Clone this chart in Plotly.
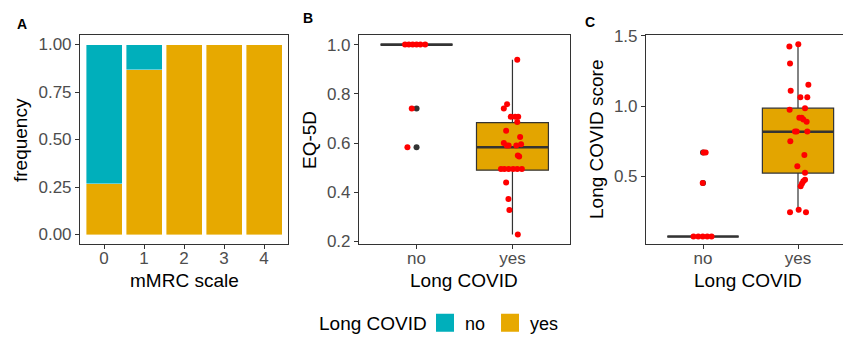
import plotly.graph_objects as go

# ---------------- data ----------------
mmrc_levels = [0, 1, 2, 3, 4]
mmrc_labels = ["0", "1", "2", "3", "4"]
freq_yes = [0.267, 0.867, 1.0, 1.0, 1.0]
freq_no = [0.733, 0.133, 0.0, 0.0, 0.0]

group_labels = ["no", "yes"]
group_pos = [1, 2]

# Panel B: EQ-5D
eq_no_vals = [1.0, 1.0, 1.0, 1.0, 1.0, 1.0, 0.74, 0.583]
eq_no_jit = [-0.12, -0.08, -0.04, 0.0, 0.04, 0.09, -0.05, -0.095]
eq_yes_vals = [0.938, 0.758, 0.74, 0.707, 0.707, 0.707, 0.686, 0.65, 0.625,
               0.60, 0.59, 0.59, 0.59, 0.595, 0.55, 0.545,
               0.495, 0.495, 0.495, 0.495, 0.495, 0.495,
               0.44, 0.373, 0.328, 0.229]
eq_yes_jit = [0.05, -0.056, -0.09, -0.018, 0.028, 0.06, 0.05, -0.066, 0.08,
              -0.09, -0.06, -0.04, 0.04, 0.09, 0.056, 0.07,
              -0.12, -0.084, -0.04, 0.007, 0.05, 0.098,
              -0.066, -0.042, -0.032, 0.056]
eq_stats = dict(q1=[1.0, 0.49], median=[1.0, 0.583], q3=[1.0, 0.683],
                lower=[1.0, 0.229], upper=[1.0, 0.938])
eq_outliers = [0.74, 0.583]

# Panel C: Long COVID score
sc_no_vals = [0.073, 0.073, 0.073, 0.073, 0.073, 0.671, 0.671, 0.453]
sc_no_jit = [-0.10, -0.05, -0.003, 0.045, 0.09, 0.007, 0.028, -0.003]
sc_yes_vals = [1.424, 1.44, 1.303, 1.109, 1.152, 1.064, 1.064, 0.986, 0.974,
               0.917, 0.917, 0.905, 0.89, 0.82, 0.82, 0.82, 0.751, 0.652,
               0.573, 0.526, 0.476, 0.467, 0.45, 0.43, 0.246, 0.263, 0.246]
sc_yes_jit = [-0.091, 0.003, -0.084, -0.077, 0.109, 0.025, 0.098, 0.074, -0.088,
              0.014, 0.039, 0.056, 0.091, -0.032, -0.014, 0.098, -0.081, 0.067,
              -0.007, 0.074, 0.074, 0.056, 0.042, 0.028, -0.084, 0.007, 0.084]
sc_stats = dict(q1=[0.073, 0.524], median=[0.073, 0.818], q3=[0.073, 0.986],
                lower=[0.073, 0.246], upper=[0.073, 1.44])
sc_outliers = [0.671, 0.453]

# ---------------- styles ----------------
TEAL = "#00AFBB"
ORANGE = "#E7A900"
BOXFILL = "#E3A500"
DARK = "#333333"
TICKC = "#4D4D4D"
FONT = "Liberation Sans, Arial, sans-serif"
W, H = 843, 337

fig = go.Figure()

# Panel A bars
fig.add_trace(go.Bar(x=mmrc_levels, y=freq_yes, width=0.9, marker=dict(color=ORANGE, line=dict(color="white", width=0.4)),
                     showlegend=False, xaxis="x", yaxis="y", hoverinfo="skip"))
fig.add_trace(go.Bar(x=mmrc_levels, y=freq_no, width=0.9, marker=dict(color=TEAL, line=dict(color="white", width=0.4)),
                     showlegend=False, xaxis="x", yaxis="y", hoverinfo="skip"))


def add_box_panel(stats, outliers, no_vals, no_jit, yes_vals, yes_jit, xa, ya):
    for i, p in enumerate(group_pos):
        fig.add_trace(go.Box(x=[p], q1=[stats["q1"][i]], median=[stats["median"][i]], q3=[stats["q3"][i]],
                             lowerfence=[stats["lower"][i]], upperfence=[stats["upper"][i]],
                             width=0.75, whiskerwidth=0, fillcolor=BOXFILL if i == 1 else "rgba(0,0,0,0)",
                             line=dict(color=DARK, width=1.2), boxpoints=False, showlegend=False,
                             xaxis=xa, yaxis=ya, hoverinfo="skip"))
    for i, p in enumerate(group_pos):
        fig.add_trace(go.Scatter(x=[p - 0.375, p + 0.375], y=[stats["median"][i]] * 2, mode="lines",
                                 line=dict(color=DARK, width=2.6), showlegend=False,
                                 xaxis=xa, yaxis=ya, hoverinfo="skip"))
    fig.add_trace(go.Scatter(x=[group_pos[0]] * len(outliers), y=outliers, mode="markers",
                             marker=dict(color=DARK, size=6), showlegend=False,
                             xaxis=xa, yaxis=ya, hoverinfo="skip"))
    fig.add_trace(go.Scatter(x=[group_pos[0] + j for j in no_jit], y=no_vals, mode="markers",
                             marker=dict(color="#FF0000", size=6), showlegend=False,
                             xaxis=xa, yaxis=ya, hoverinfo="skip"))
    fig.add_trace(go.Scatter(x=[group_pos[1] + j for j in yes_jit], y=yes_vals, mode="markers",
                             marker=dict(color="#FF0000", size=6), showlegend=False,
                             xaxis=xa, yaxis=ya, hoverinfo="skip"))


add_box_panel(eq_stats, eq_outliers, eq_no_vals, eq_no_jit, eq_yes_vals, eq_yes_jit, "x2", "y2")
add_box_panel(sc_stats, sc_outliers, sc_no_vals, sc_no_jit, sc_yes_vals, sc_yes_jit, "x3", "y3")

# legend entries
for name, col in [("no", TEAL), ("yes", ORANGE)]:
    fig.add_trace(go.Scatter(x=[None], y=[None], mode="markers", name=name,
                             marker=dict(symbol="square", size=16, color=col, line=dict(color=col, width=2)),
                             xaxis="x", yaxis="y"))


def px_x(p):
    return p / W


def px_y(p):
    return (H - p) / H


ytop, ybot = 35, 244
ydom = [px_y(ybot), px_y(ytop)]

axis_common = dict(showgrid=False, zeroline=False, showline=True, linecolor=DARK, linewidth=1.1,
                   ticks="outside", ticklen=4, tickcolor=DARK, tickwidth=1.1,
                   tickfont=dict(family=FONT, size=17, color=TICKC))
xtick_extra = dict(ticklabelstandoff=-5)

fig.update_layout(
    width=W, height=H, margin=dict(l=0, r=0, t=0, b=0, autoexpand=False),
    paper_bgcolor="white", plot_bgcolor="white", barmode="stack", bargap=0.1,
    font=dict(family=FONT, color="black"),
    xaxis=dict(domain=[px_x(80), px_x(288)], range=[-0.6, 4.6], tickvals=mmrc_levels, ticktext=mmrc_labels,
               mirror=True, anchor="y", **axis_common, **xtick_extra),
    yaxis=dict(domain=ydom, range=[-0.05, 1.05], tickvals=[0, 0.25, 0.5, 0.75, 1.0],
               ticktext=["0.00", "0.25", "0.50", "0.75", "1.00"], mirror=True, anchor="x", **axis_common),
    xaxis2=dict(domain=[px_x(359), px_x(570)], range=[0.4, 2.6], tickvals=group_pos, ticktext=group_labels,
                mirror=True, anchor="y2", **axis_common, **xtick_extra),
    yaxis2=dict(domain=ydom, range=[0.19, 1.039], tickvals=[0.2, 0.4, 0.6, 0.8, 1.0],
                ticktext=["0.2", "0.4", "0.6", "0.8", "1.0"], mirror=True, anchor="x2", **axis_common),
    xaxis3=dict(domain=[px_x(646), 1.0], range=[0.4, 0.4 + (843 - 646) / 95.0], tickvals=group_pos,
                ticktext=group_labels, mirror=True, anchor="y3", **axis_common, **xtick_extra),
    yaxis3=dict(domain=ydom, range=[0.02, 1.506], tickvals=[0.5, 1.0, 1.5],
                ticktext=["0.5", "1.0", "1.5"], mirror=False, anchor="x3", **axis_common),
    legend=dict(orientation="h", x=px_x(425), xanchor="left", y=px_y(323), yanchor="middle",
                itemsizing="trace", traceorder="normal", font=dict(family=FONT, size=18, color="black"),
                bgcolor="rgba(0,0,0,0)"),
)

annots = [
    dict(text="<b>A</b>", x=px_x(22), y=px_y(24), size=14, anchor="center"),
    dict(text="<b>B</b>", x=px_x(308), y=px_y(18), size=14, anchor="center"),
    dict(text="<b>C</b>", x=px_x(590), y=px_y(22), size=14, anchor="center"),
    dict(text="mMRC scale", x=px_x(184), y=px_y(280), size=19, anchor="center"),
    dict(text="Long COVID", x=px_x(464), y=px_y(280), size=19, anchor="center"),
    dict(text="Long COVID", x=px_x(748), y=px_y(280), size=19, anchor="center"),
    dict(text="Long COVID", x=px_x(429), y=px_y(323), size=19, anchor="right"),
]
for a in annots:
    fig.add_annotation(text=a["text"], x=a["x"], y=a["y"], xref="paper", yref="paper",
                       xanchor=a["anchor"], yanchor="middle", showarrow=False,
                       font=dict(family=FONT, size=a["size"], color="black"))

for txt, xp in [("frequency", 20), ("EQ-5D", 309), ("Long COVID score", 596)]:
    fig.add_annotation(text=txt, x=px_x(xp), y=px_y(140), xref="paper", yref="paper",
                       xanchor="center", yanchor="middle", showarrow=False, textangle=-90,
                       font=dict(family=FONT, size=19, color="black"))

fig.write_html("out.html", config={"displayModeBar": False},
               post_script="document.body.style.margin='0';")
